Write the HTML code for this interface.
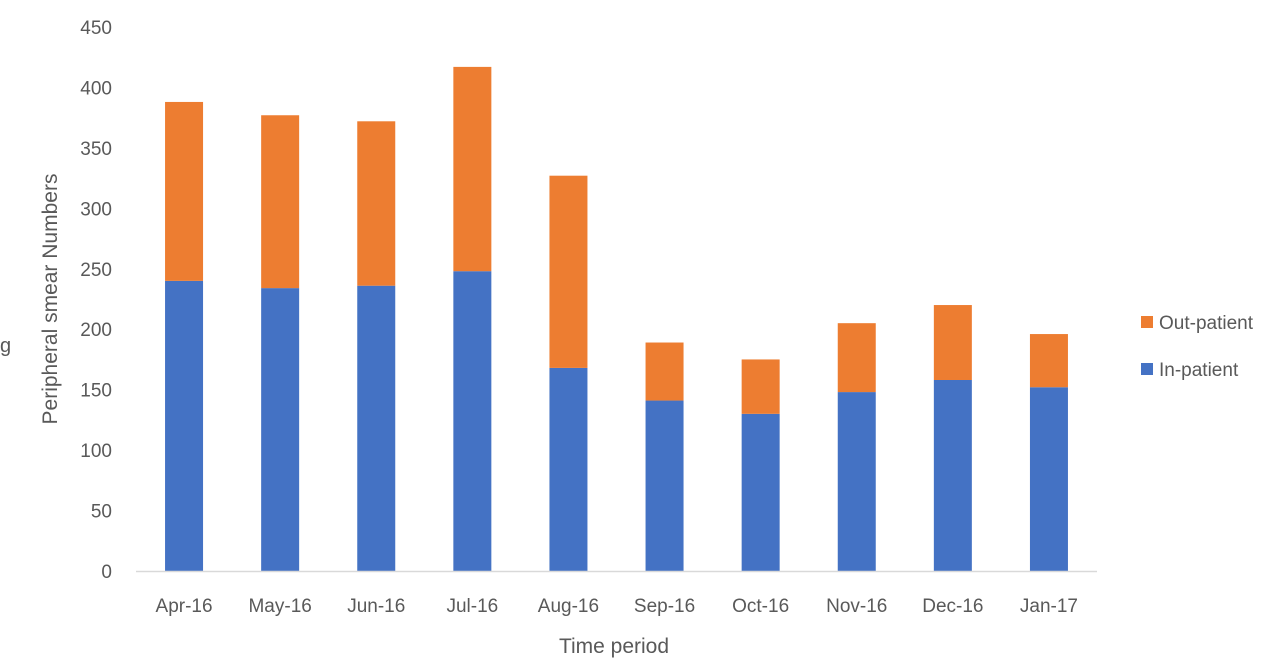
<!DOCTYPE html>
<html><head><meta charset="utf-8"><style>
html,body{margin:0;padding:0;background:#fff;}
svg{display:block;font-family:"Liberation Sans",sans-serif;}
</style></head><body>
<svg id="chart" width="1280" height="660">
<text x="0" y="352" font-size="20" fill="#595959">g</text>
</svg>
<script>
const categories=["Apr-16","May-16","Jun-16","Jul-16","Aug-16","Sep-16","Oct-16","Nov-16","Dec-16","Jan-17"];
const inpatient=[240,234,236,248,168,141,130,148,158,152];
const totals=[388,377,372,417,327,189,175,205,220,196];
const yTicks=[0,50,100,150,200,250,300,350,400,450];
const NS="http://www.w3.org/2000/svg";
const svg=document.getElementById('chart');
const x0=136,x1=1097,y0=571,yTop=27,yMax=450;
const band=(x1-x0)/categories.length,bw=38;
const Y=v=>y0-(v/yMax)*(y0-yTop);
const X=i=>x0+band*(i+0.5);
function mk(t,a,parent){const e=document.createElementNS(NS,t);for(const k in a)e.setAttribute(k,a[k]);(parent||svg).appendChild(e);return e;}
yTicks.forEach(v=>{
 const t=mk('text',{x:112,y:Y(v)+7,'text-anchor':'end','font-size':19,fill:'#595959'});
 
 
 t.textContent=v;
});
categories.forEach((c,i)=>{
 const ip=inpatient[i],op=totals[i]-inpatient[i];
 const b1=mk('rect',{x:X(i)-bw/2,y:Y(ip),width:bw,height:y0-Y(ip),fill:'#4472c4'});
 
 
 const b2=mk('rect',{x:X(i)-bw/2,y:Y(ip+op),width:bw,height:Y(ip)-Y(ip+op),fill:'#ed7d31'});
 
 
 const t=mk('text',{x:X(i),y:612,'text-anchor':'middle','font-size':19,fill:'#595959'});
 
 
 t.textContent=c;
});
const ax=mk('line',{x1:x0,x2:x1,y1:y0+0.5,y2:y0+0.5,stroke:'#d9d9d9','stroke-width':1.5});


const xt=mk('text',{x:614,y:653,'text-anchor':'middle','font-size':21,fill:'#595959'});


xt.textContent='Time period';
const yt=mk('text',{x:0,y:0,'text-anchor':'middle','font-size':21,fill:'#595959',transform:'translate(57,299) rotate(-90)'});


yt.textContent='Peripheral smear Numbers';
[['Out-patient','#ed7d31',322],['In-patient','#4472c4',369]].forEach(([n,c,y])=>{
 const g=mk('g',{});
 
 
 mk('rect',{x:1141,y:y-6,width:12,height:12,fill:c},g);
 const t=mk('text',{x:1159,y:y+7,'font-size':19,fill:'#595959'},g);
 t.textContent=n;
});
</script>
</body></html>
